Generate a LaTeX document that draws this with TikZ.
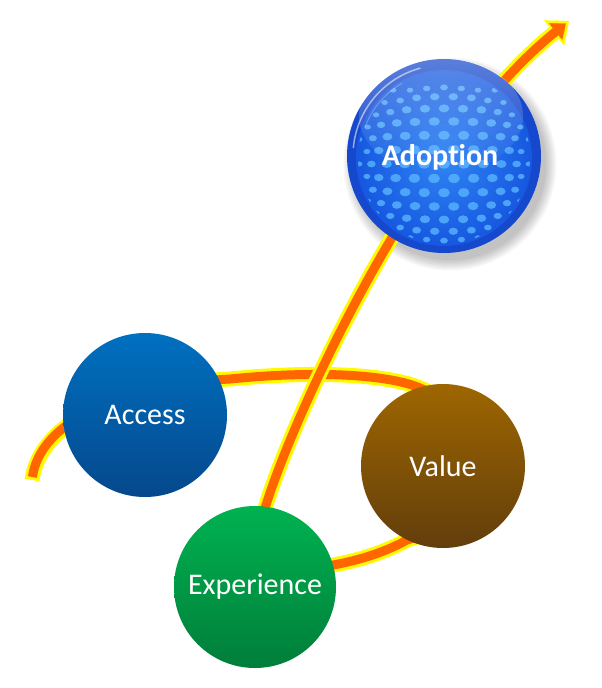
\documentclass[tikz,border=0pt]{standalone}
\usepackage{fontspec}
\setmainfont{Carlito}[Ligatures=NoCommon]
\usetikzlibrary{arrows.meta,fadings}
\pgfdeclarelayer{bg}
\pgfsetlayers{bg,main}
\definecolor{orng}{RGB}{255,102,0}
\definecolor{yllw}{RGB}{255,250,0}
\definecolor{accT}{RGB}{0,112,192}
\definecolor{accB}{RGB}{5,72,140}
\definecolor{valT}{RGB}{158,102,0}
\definecolor{valB}{RGB}{98,62,12}
\definecolor{expT}{RGB}{0,178,80}
\definecolor{expB}{RGB}{0,126,58}
\definecolor{adoRing}{RGB}{22,72,205}
\definecolor{adoIn}{RGB}{48,132,244}
\definecolor{adoOut}{RGB}{22,88,224}
\definecolor{dotc}{RGB}{88,180,255}
\tikzset{
  ball/.style={circle, inner sep=0pt, text=white, font=\fontsize{30}{34}\selectfont},
  yband/.style={draw=yllw, line width=15pt},
  oband/.style={draw=orng, line width=9pt}
}
\begin{document}
\begin{tikzpicture}[x=1pt,y=-1pt]
\path[use as bounding box] (0,0) rectangle (602,688);
\coordinate (loopstart) at (32,480);
\coordinate (tip) at (569,21);
% nodes
\node[ball, minimum size=164pt, top color=accT, bottom color=accB] (access) at (145,415) {Access};
\node[ball, minimum size=164pt, top color=valT, bottom color=valB] (value) at (443,466) {Value};
\node[ball, minimum size=162pt, top color=expT, bottom color=expB] (experience) at (255,587) {Experience};
\node[circle, inner sep=0pt, minimum size=194pt, fill=adoRing] (adoption) at (444,156) {};
% Adoption sphere details
\shade[inner color=adoIn, outer color=adoOut] (adoption.center) ++(0,2) circle (88);
\begin{scope}
\clip (adoption.center) ++(0,2) circle (86);
\foreach \i in {-6,...,6}{
 \foreach \j in {-5,...,5}{
  \pgfmathsetmacro\gx{(\j+0.5*mod(\i+6,2))*20}
  \pgfmathsetmacro\gy{\i*14.5}
  \pgfmathsetmacro\dd{min(veclen(\gx,\gy)/95,0.97)}
  \pgfmathsetmacro\ff{sqrt(1-\dd*\dd)}
  \pgfmathsetmacro\px{444+\gx*(0.8+0.2*\ff)}
  \pgfmathsetmacro\py{164+\gy*(0.8+0.2*\ff)}
  \pgfmathsetmacro\rx{6.0*(0.4+0.6*\ff)}
  \pgfmathsetmacro\ry{4.6*(0.4+0.6*\ff)}
  \fill[dotc, opacity=0.8] (\px,\py) ellipse [x radius=\rx, y radius=\ry];
 }}
\end{scope}
\fill[white, opacity=0.3, path fading=south] (441,116) ellipse [x radius=82, y radius=58];
\draw[white, opacity=0.55, line width=1.5pt] (adoption.center) ++(185:91) arc (185:255:91);
\draw[white, opacity=0.25, line width=1pt] (adoption.center) ++(200:84) arc (200:240:84);
\node[text=white, font=\bfseries\fontsize{30}{34}\selectfont] (adolabel) at (440,157) {Adoption};
% connectors and shadow on background layer
\begin{pgfonlayer}{bg}
\fill[white] (0,0) rectangle (602,688);
\foreach \k in {0,...,7}{
  \fill[black, opacity=0.03] (450,164) circle (96+\k*1.5);
}
% loop: start -> Access -> Value -> Experience
\draw[yband] (loopstart) .. controls (40,422) and (120,385) .. (230,379)
  .. controls (320,370) and (390,375) .. (420,388)
  .. controls (500,420) and (480,520) .. (407,540)
  .. controls (380,555) and (350,562) .. (333,565) -- (experience.center);
\draw[oband, shorten <=3pt] (loopstart) .. controls (40,422) and (120,385) .. (230,379)
  .. controls (320,370) and (390,375) .. (420,388)
  .. controls (500,420) and (480,520) .. (407,540)
  .. controls (380,555) and (350,562) .. (333,565) -- (experience.center);
% strand: Experience -> Adoption -> arrow
\draw[yband, -{Triangle[length=19pt,width=32pt,line width=0.1pt]}] (experience.center) -- (263,515)
  .. controls (290,420) and (420,140) .. (tip);
\draw[oband, shorten >=4pt, -{Triangle[length=13pt,width=21pt,line width=0.1pt]}] (experience.center) -- (263,515)
  .. controls (290,420) and (420,140) .. (tip);
\end{pgfonlayer}
\end{tikzpicture}
\end{document}
